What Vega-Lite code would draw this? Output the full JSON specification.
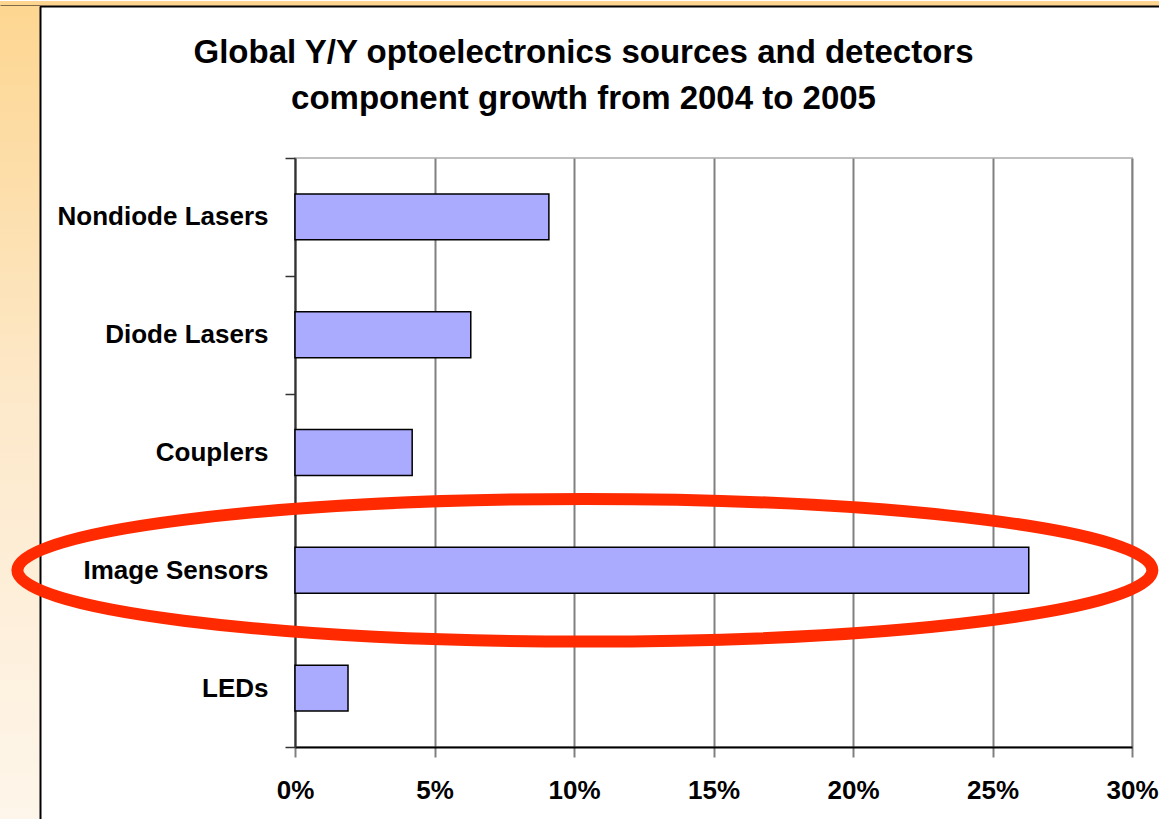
{
  "$schema": "https://vega.github.io/schema/vega-lite/v6.json",
  "background": "white",
  "padding": {"left": -8, "top": 0, "right": 0, "bottom": 0},
  "autosize": {"type": "pad"},
  "spacing": 0,
  "bounds": "flush",
  "config": {
    "font": "Liberation Sans",
    "view": {"stroke": null}
  },
  "vconcat": [
    {
      "width": 1159,
      "height": 5,
      "data": {"values": [{"v": 0}, {"v": 1}]},
      "mark": {"type": "point", "opacity": 0},
      "encoding": {
        "x": {
          "field": "v",
          "type": "quantitative",
          "axis": {
            "orient": "bottom",
            "labels": false,
            "ticks": false,
            "grid": false,
            "title": null,
            "domainColor": "black",
            "domainWidth": 2
          }
        }
      },
      "view": {"stroke": null, "fill": "#fdd590"}
    },
    {
      "spacing": 255,
      "bounds": "flush",
      "center": true,
      "hconcat": [
        {
          "width": 40,
          "height": 893,
          "data": {"values": [{"v": 0}, {"v": 1}]},
          "mark": {"type": "point", "opacity": 0},
          "encoding": {
            "y": {
              "field": "v",
              "type": "quantitative",
              "axis": {
                "orient": "right",
                "labels": false,
                "ticks": false,
                "grid": false,
                "title": null,
                "domainColor": "black",
                "domainWidth": 2
              }
            }
          },
          "view": {
            "stroke": null,
            "fill": {
              "gradient": "linear",
              "x1": 0, "y1": 0, "x2": 0, "y2": 1,
              "stops": [
                {"offset": 0, "color": "#fdd691"},
                {"offset": 0.45, "color": "#fde9cb"},
                {"offset": 1, "color": "#fef8f0"}
              ]
            }
          }
        },
        {
          "width": 837,
          "height": 589,
          "title": {
            "text": ["Global Y/Y optoelectronics sources and detectors", "component growth from 2004 to 2005"],
            "fontSize": 33,
            "fontWeight": "bold",
            "lineHeight": 46,
            "anchor": "middle",
            "frame": "group",
            "dx": -130,
            "offset": 29,
            "color": "black"
          },
          "view": {"stroke": "#c0c0c0", "strokeWidth": 2, "fill": null},
          "data": {
            "values": [
              {"component": "Nondiode Lasers", "growth": 0.091},
              {"component": "Diode Lasers", "growth": 0.063},
              {"component": "Couplers", "growth": 0.042},
              {"component": "Image Sensors", "growth": 0.263},
              {"component": "LEDs", "growth": 0.019}
            ]
          },
          "layer": [
            {
              "mark": {"type": "bar", "fill": "#aaaaff", "stroke": "black", "strokeWidth": 1.5, "height": {"band": 0.39}},
              "encoding": {
                "y": {
                  "field": "component",
                  "type": "nominal",
                  "scale": {
                    "domain": ["Nondiode Lasers", "Diode Lasers", "Couplers", "Image Sensors", "LEDs"],
                    "paddingInner": 0,
                    "paddingOuter": 0
                  },
                  "axis": {
                    "title": null,
                    "labelFontSize": 26,
                    "labelFontWeight": "bold",
                    "labelColor": "black",
                    "labelPadding": 17,
                    "labelLimit": 400,
                    "tickSize": 10,
                    "tickWidth": 1.5,
                    "tickColor": "#333333",
                    "tickBand": "extent",
                    "domainColor": "#333333",
                    "domainWidth": 2,
                    "grid": false
                  }
                },
                "x": {
                  "field": "growth",
                  "type": "quantitative",
                  "scale": {"domain": [0, 0.3], "nice": false},
                  "axis": {
                    "title": null,
                    "format": ".0%",
                    "values": [0, 0.05, 0.1, 0.15, 0.2, 0.25, 0.3],
                    "grid": true,
                    "gridColor": "#808080",
                    "gridWidth": 2,
                    "gridOpacity": 1,
                    "tickColor": "#808080",
                    "tickSize": 10,
                    "tickWidth": 2,
                    "domainColor": "black",
                    "domainWidth": 2,
                    "labelFontSize": 26,
                    "labelFontWeight": "bold",
                    "labelColor": "black",
                    "labelPadding": 20,
                    "labelFlush": false
                  }
                }
              }
            },
            {
              "data": {"values": [{"component": "Image Sensors", "center": 0.1039}]},
              "mark": {
                "type": "point",
                "shape": "M-1,0A1,0.1256,0,1,0,1,0A1,0.1256,0,1,0,-1,0Z",
                "size": 1288225,
                "filled": false,
                "stroke": "#ff2a00",
                "strokeWidth": 12,
                "opacity": 1
              },
              "encoding": {
                "x": {"field": "center", "type": "quantitative"},
                "y": {"field": "component", "type": "nominal"}
              }
            }
          ]
        }
      ]
    }
  ]
}
